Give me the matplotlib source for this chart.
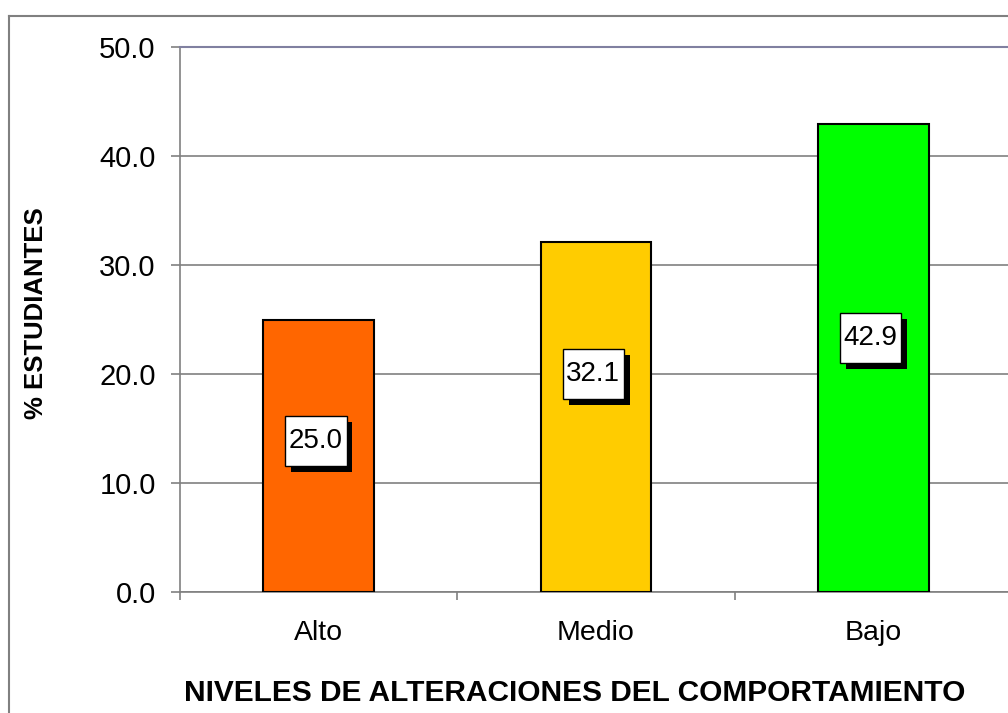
import matplotlib.pyplot as plt
from matplotlib.lines import Line2D
from matplotlib.path import Path
import matplotlib.patheffects as pe

plt.rcParams['font.family'] = ['Liberation Sans', 'DejaVu Sans']

niveles = ['Alto', 'Medio', 'Bajo']
porcentajes = [25.0, 32.1, 42.9]
colores = ['#FF6600', '#FFCC00', '#00FF00']
# altura de las etiquetas dentro de cada barra
label_y = [13.85, 20.0, 23.3]
yticks = [0, 10, 20, 30, 40, 50]


def caja_etiqueta(x0, y0, width, height, mutation_size):
    # caja rectangular con más relleno vertical que horizontal
    px = 0.13 * mutation_size
    py = 0.42 * mutation_size
    x0, y0 = x0 - px, y0 - py
    x1, y1 = x0 + width + 2 * px, y0 + height + 2 * py
    return Path([(x0, y0), (x1, y0), (x1, y1), (x0, y1), (x0, y0)], closed=True)


fig = plt.figure(figsize=(10.08, 7.13), dpi=100)
ax = fig.add_axes([180 / 1008, 1 - 592 / 713, 832 / 1008, 545 / 713])

x = list(range(len(niveles)))
ax.bar(x, porcentajes, width=0.4, color=colores, edgecolor='black', linewidth=1.5, zorder=3)

for xi, v, ly in zip(x, porcentajes, label_y):
    t = ax.text(xi - 0.01, ly, f'{v:.1f}', ha='center', va='center', fontsize=20, zorder=5,
                bbox=dict(boxstyle=caja_etiqueta, fc='white', ec='black', lw=1))
    t.get_bbox_patch().set_path_effects([
        pe.SimplePatchShadow(offset=(4.3, -4.3), shadow_rgbFace='black', alpha=1),
        pe.Normal()])

ax.set_xlim(-0.5, 2.5)
ax.set_ylim(0, 50)
ax.set_yticks(yticks)
ax.set_yticklabels([f'{t:.1f}' for t in yticks])
ax.set_xticks(x)
ax.set_xticklabels(niveles)
ax.set_xticks([-0.5, 0.5, 1.5, 2.5], minor=True)

ax.tick_params(axis='y', direction='out', length=6.5, width=1.2, color='#808080',
               labelsize=21, pad=11)
ax.tick_params(axis='x', which='major', length=0, labelsize=20.5, pad=20)
ax.tick_params(axis='x', which='minor', direction='out', length=6, width=1.2, color='#808080')

ax.yaxis.grid(True, color='#808080', linewidth=1.2, zorder=0)
ax.set_axisbelow(True)
ax.spines['right'].set_visible(False)
ax.spines['top'].set_color('#8080A0')
ax.spines['top'].set_linewidth(1.5)
for s in ['left', 'bottom']:
    ax.spines[s].set_color('#808080')
    ax.spines[s].set_linewidth(1.2)

fig.text(36 / 1008, 1 - 313 / 713, '% ESTUDIANTES', rotation=90, ha='center', va='center',
         fontsize=18.5, fontweight='bold')
fig.text(575 / 1008, 1 - 693 / 713, 'NIVELES DE ALTERACIONES DEL COMPORTAMIENTO',
         ha='center', va='center', fontsize=21.5, fontweight='bold')

# borde exterior del gráfico
fx0, fy1 = 9 / 1008, 1 - 16 / 713
fig.add_artist(Line2D([fx0, fx0], [0, fy1], transform=fig.transFigure, color='#808080', lw=1.5))
fig.add_artist(Line2D([fx0, 1], [fy1, fy1], transform=fig.transFigure, color='#808080', lw=1.5))

fig.savefig('out.png', dpi=100)
